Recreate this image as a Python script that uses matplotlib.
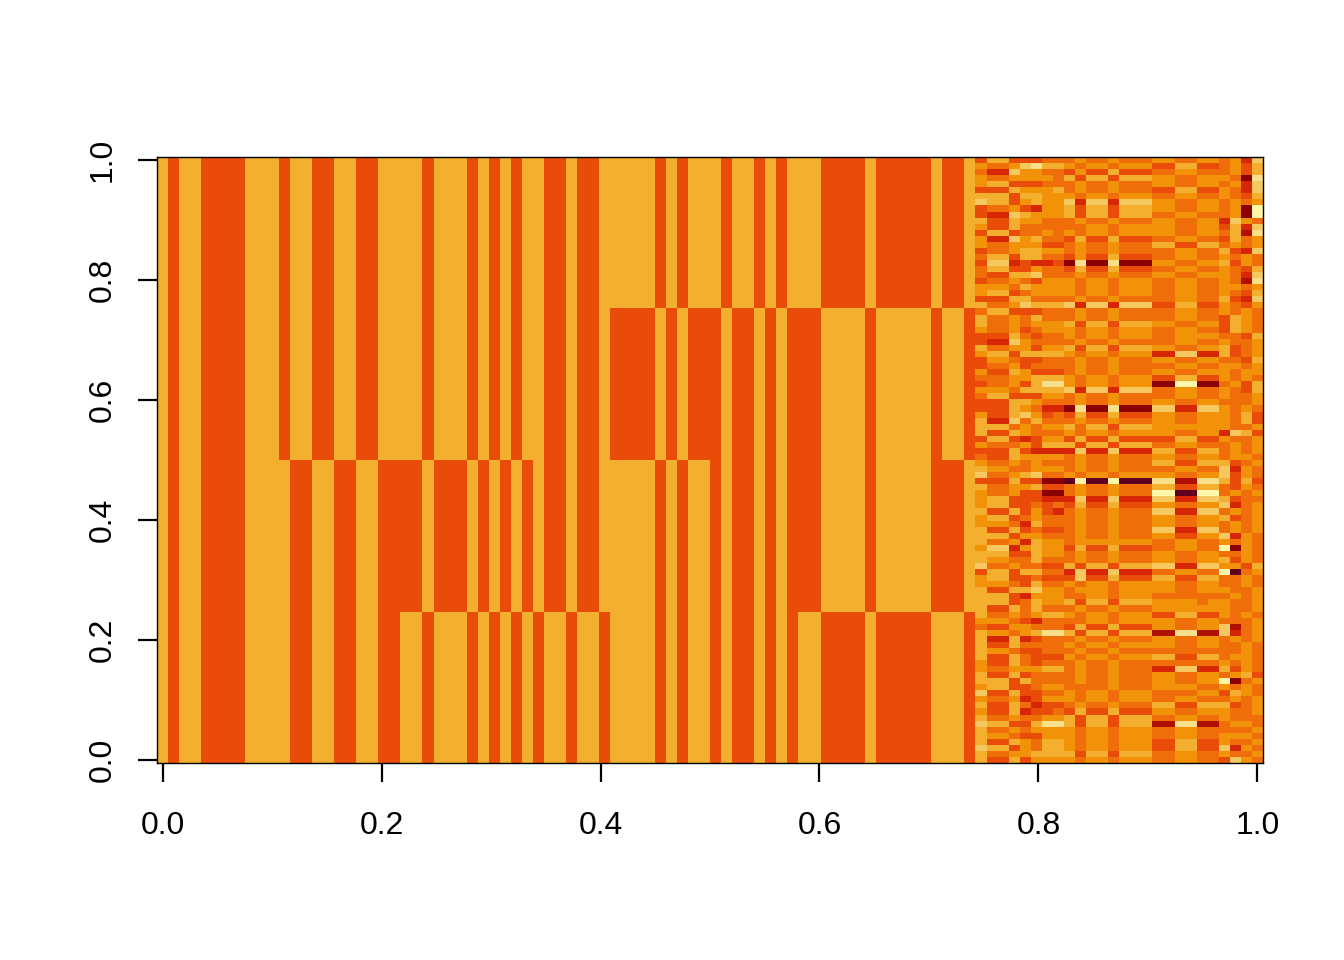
import numpy as np
import matplotlib
matplotlib.use("Agg")
import matplotlib.pyplot as plt
from matplotlib.colors import ListedColormap, BoundaryNorm

plt.rcParams['font.family'] = ['Liberation Sans', 'DejaVu Sans']

# colour levels 0 (darkest) to 10 (palest)
level_colors = ['#5F0020', '#8B0000', '#B01000', '#D62606', '#E84C08', '#EF6E0A',
                '#F29208', '#F4AF2F', '#F6C860', '#FADF8A', '#FFF7A8']

# first 74 columns, one string per block of 25 rows
block_top = "7 4 77 4444 777 4 77 44 77 44 7777 4 777 4 7 4 7 4 77 44 7 44 77777 4 7 4 777 4 77 4 7 4 777 4444 7 44444 7 44 7"
block_upper = "7 4 77 4444 777 4 77 44 77 44 7777 4 777 4 7 4 7 4 77 44 7 44 7 4444 7 4 7 444 7 44 7 4 7 444 7777 4 77777 4 77 4"
block_lower = "7 4 77 4444 7777 44 77 44 77 4444 7 444 7 4 7 4 7 4 7 44 7 44 77777 4 7 4 77 4 7 44 7 4 7 444 7777 4 77777 444 7"
block_bottom = "7 4 77 4444 7777 44 77 44 77 44 77 4 777 4 7 4 7 4 7 4 77 4 77 4 7777 4 7 4 77 4 7 44 7 4 7 4 77 4444 7 44444 777 4"

# last 26 columns, rows from top of the plot to bottom (a = level 10)
noisy_rows = [
    "47744455565565556655665638", "65568977656656664477445647", "53386655464474445566555647",
    "65566665747747776655666519", "67744455565565556655665638", "44476667565565554477446538",
    "77747766656656665566556547", "87746766838838886655665656", "4556436674774777665566561a",
    "4338766674774777556655561a", "74476655565565556655663865", "64475555556656666655664738",
    "47745565656656666655665729", "63386755474474445566554756", "65566644565565557744775656",
    "45567766565565555566557438", "57747755464474445566556565", "48834334191191116655667465",
    "57744655474474445566556547", "54477855565565556655666538", "45565466656656665566556529",
    "66657666656656665566556656", "67745666656656665566556547", "44477555565565555566557438",
    "75568777838838884477446546",
    "57744455565565555566556565", "75565755565565555566554765", "75565666747747776655664765",
    "65564566656656665566554765", "44475455656656665566665547", "43386555565565555566556556",
    "75566466747747776655667456", "67747777656656663388337456", "46654455565565556655665547",
    "45564555565565555566556656", "64476444565565556655666566", "55566777656656664477446565",
    "455647996566566611aa115647", "66657777838838885566556547", "57744466565565555566556556",
    "44477655565565556655665556", "44476533191191118833886565", "64478645474474446655666574",
    "73385755565565556655666574", "77756566757747776666666556", "74476555656656666655663874",
    "47743466474474444477446556", "65556477747747775566555656", "44474333383383337744775656",
    "54476666565565556655665665",
    "65565655565565557744777456", "76655666565565555566558365", "85567855656656666655668465",
    "444744110a00a0009922997474", "75566744565565557744775465", "6556441156556555aa00aa5656",
    "67744433383383338833887455", "67744545474474446655668356", "74474643565565558833885656",
    "67745655565565556655667456", "66653755565565556655665656", "74474544565565558833885656",
    "77746655565565556644668365", "75563766566666665566556565", "6883676647447444556655a165",
    "77744766565565556655665565", "76655755565565556655667465", "85565544747747778833886647",
    "4774775538338333556655a056", "67744544484474447744775565", "66654755656656666655665565",
    "74477866566656666655666556", "77743666556656665555555656", "77745766747747776666566556",
    "74475755565565556666666556",
    "75565677656656664477446565", "66654355556656666655665556", "54466555474474446655668256",
    "76656799747747772299228356", "73373455565565556655665656", "74475555656656666655665565",
    "76654455565565555555555565", "74475444656656667744775665", "64475455565565555555556565",
    "65566677565565553388337465", "74474555565565556655665674", "7774755556556555665566a156",
    "67744566555565556666556565", "84474455656656665555664765", "65563466656656665566555656",
    "74475344565565557744777456", "64473445474474446655666556", "75565566747747775566556555",
    "87744799747747772299225665", "75565666656656665566555556", "76654466656656665566556665",
    "74476577656656664477446556", "87746577656656664477448365", "75566777747747775566556556",
    "74474666656656665566554865",
]

tick_values = [0.0, 0.2, 0.4, 0.6, 0.8, 1.0]
tick_labels = ['0.0', '0.2', '0.4', '0.6', '0.8', '1.0']


def parse_levels(text):
    return [int(ch, 16) for ch in text.replace(' ', '')]


# build the 100 x 100 matrix, row 0 at the bottom
blocks = [block_bottom, block_lower, block_upper, block_top]
rows_from_bottom = noisy_rows[::-1]
z = np.zeros((100, 100))
for r in range(100):
    z[r, :74] = parse_levels(blocks[r // 25])
    z[r, 74:] = parse_levels(rows_from_bottom[r])

x = np.linspace(0, 1, 100)
y = np.linspace(0, 1, 100)

fig = plt.figure(figsize=(13.44, 9.6), dpi=100)
ax = fig.add_axes([157 / 1344, 1 - 763 / 960, 1106 / 1344, 606 / 960])

cmap = ListedColormap(level_colors)
norm = BoundaryNorm(np.arange(-0.5, 11.5), cmap.N)
ax.pcolormesh(x, y, z, cmap=cmap, norm=norm, shading='nearest')

ax.set_xlim(-1 / 198, 1 + 1 / 198)
ax.set_ylim(-1 / 198, 1 + 1 / 198)
ax.set_xticks(tick_values)
ax.set_xticklabels(tick_labels, fontsize=23)
ax.set_yticks(tick_values)
ax.set_yticklabels(tick_labels, fontsize=23, rotation=90, va='center')
ax.tick_params(axis='x', length=14, width=1.6, pad=20.5)
ax.tick_params(axis='y', length=14, width=1.6, pad=14.5)
for side in ax.spines.values():
    side.set_linewidth(1.0)

fig.savefig('out.png', dpi=100)
